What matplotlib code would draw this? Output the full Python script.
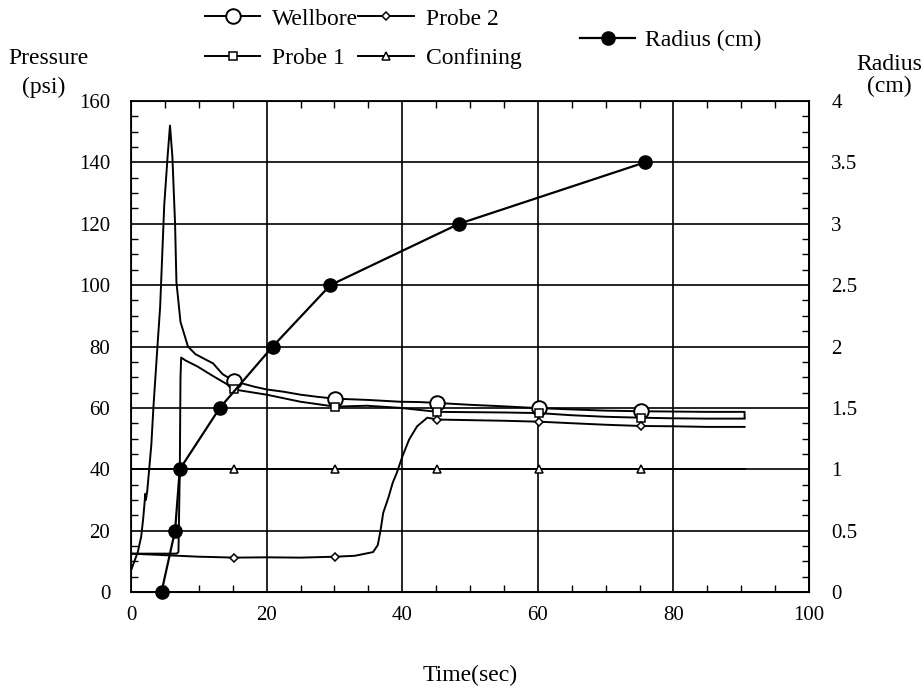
import matplotlib
matplotlib.use("Agg")
import matplotlib.pyplot as plt
from matplotlib.ticker import MultipleLocator, FuncFormatter

plt.rcParams['font.family'] = ['Liberation Serif', 'DejaVu Serif']

# ---------------- data ----------------
marker_times = [15.2, 30.1, 45.2, 60.2, 75.2]

wellbore_t = [0, 0.5, 1.0, 1.5, 1.8, 2.0, 2.1, 2.2, 2.4, 3.0, 3.3, 3.9, 4.3, 4.9, 5.4, 5.75,
              6.1, 6.5, 6.7, 7.3, 8.4, 9.5, 12.1, 13.5, 15.2, 18, 20, 22.4, 25, 27.5, 30.1,
              34.8, 39.7, 42.5, 45.2, 50, 55, 60.2, 65, 70, 75.2, 80, 85, 90.5, 90.5]
wellbore_p = [7, 10, 13, 18, 24, 29, 32, 30, 33, 48, 60, 80, 93, 126, 142, 152,
              142, 120, 101, 88, 80, 77.5, 74.5, 71, 68.7, 67, 66, 65.3, 64.3, 63.6, 63,
              62.6, 62, 61.9, 61.6, 61, 60.5, 59.9, 59.5, 59.1, 58.9, 58.8, 58.7, 58.7, 56.8]

probe1_t = [0, 3, 6.7, 7.0, 7.2, 7.3, 7.4, 8, 9.8, 12, 14.7, 15.2, 20, 25, 30.1,
            34.8, 39.7, 45.2, 50, 55, 60.2, 65, 70, 75.2, 80, 85, 90.5]
probe1_p = [12.5, 12.5, 12.5, 13, 40, 70, 76.4, 75.5, 73.5, 70.5, 67, 66, 64.3, 62, 60.4,
            60.7, 60, 58.7, 58.6, 58.5, 58.3, 57.6, 57.1, 56.8, 56.6, 56.5, 56.5]

probe2_t = [0, 5, 10, 12, 15.2, 20, 25, 30.1, 33, 35.7, 36.4, 36.8, 37.2, 38.0, 38.6,
            39.2, 40.0, 41.0, 42.2, 43.7, 45.2, 50, 55, 60.2, 65, 70, 75.2, 80, 85, 90.5]
probe2_p = [12.5, 12, 11.5, 11.4, 11.2, 11.3, 11.2, 11.5, 11.8, 13, 15.3, 20, 25.8, 31, 35.6,
            38.8, 44, 49.6, 54, 56.8, 56.2, 56, 55.8, 55.5, 55, 54.5, 54.1, 54, 53.8, 53.8]

confining_t = [0, 15.2, 30.1, 45.2, 60.2, 75.2, 90.5]
confining_p = [40, 40, 40, 40, 40, 40, 40]

radius_t = [4.5, 6.5, 7.2, 13.1, 20.9, 29.4, 48.4, 75.8]
radius_r = [0, 0.5, 1.0, 1.5, 2.0, 2.5, 3.0, 3.5]

x_ticks = [0, 20, 40, 60, 80, 100]
p_ticks = [0, 20, 40, 60, 80, 100, 120, 140, 160]
r_ticks = [0, 0.5, 1, 1.5, 2, 2.5, 3, 3.5, 4]


def marks(ts):
    return [ts.index(m) for m in marker_times]


# ---------------- figure ----------------
W, H = 924, 691
fig = plt.figure(figsize=(W / 100, H / 100), dpi=100)
ax = fig.add_axes([131 / W, (H - 592) / H, 678 / W, 491 / H])

lw = 1.4
fs = 15     # tick labels
fl = 17     # legend / axis titles

ax.set_xlim(0, 100)
ax.set_ylim(0, 160)
ax.set_xticks(x_ticks)
ax.set_yticks(p_ticks)
ax.xaxis.set_minor_locator(MultipleLocator(5))
ax.yaxis.set_minor_locator(MultipleLocator(5))
ax.grid(True, which='major', color='black', lw=1.2)
ax.tick_params(which='both', direction='in', top=True, labelsize=fs, colors='black')
ax.tick_params(axis='y', which='major', length=0, pad=15)
ax.tick_params(axis='x', which='major', length=0, pad=10)
ax.tick_params(which='minor', length=5, width=1)
for s in ax.spines.values():
    s.set_linewidth(1.3)

wb, = ax.plot(wellbore_t, wellbore_p, color='black', lw=lw, marker='o', ms=10.5,
              mfc='white', mec='black', mew=1.4, markevery=marks(wellbore_t), label='Wellbore')
p1, = ax.plot(probe1_t, probe1_p, color='black', lw=lw, marker='s', ms=5.5,
              mfc='white', mec='black', mew=1.1, markevery=marks(probe1_t), label='Probe 1')
p2, = ax.plot(probe2_t, probe2_p, color='black', lw=lw, marker='D', ms=4.5,
              mfc='white', mec='black', mew=1.1, markevery=marks(probe2_t), label='Probe 2')
cf, = ax.plot(confining_t, confining_p, color='black', lw=lw, marker='^', ms=6,
              mfc='white', mec='black', mew=1.1, markevery=marks(confining_t), label='Confining')

ax2 = ax.twinx()
ax2.set_ylim(0, 4)
ax2.set_yticks(r_ticks)
ax2.yaxis.set_minor_locator(MultipleLocator(0.125))
ax2.yaxis.set_major_formatter(FuncFormatter(lambda v, p: ('%g' % v)))
ax2.tick_params(which='both', direction='in', labelsize=fs, colors='black')
ax2.tick_params(which='major', length=0, pad=16)
ax2.tick_params(which='minor', length=5, width=1)
rd, = ax2.plot(radius_t, radius_r, color='black', lw=1.6, marker='o', ms=9.5,
               mfc='black', mec='black', label='Radius (cm)', clip_on=False)

# axis labels
fig.text(470 / W, 1 - 675 / H, 'Time(sec)', ha='center', va='center', fontsize=fl)
fig.text(48 / W, 1 - 58 / H, 'Pressure', ha='center', va='center', fontsize=fl)
fig.text(44 / W, 1 - 87 / H, '(psi)', ha='center', va='center', fontsize=fl)
fig.text(889 / W, 1 - 65 / H, 'Radius', ha='center', va='center', fontsize=fl)
fig.text(889 / W, 1 - 86 / H, '(cm)', ha='center', va='center', fontsize=fl)

# legends
leg1 = fig.legend(handles=[wb, p1, p2, cf], ncol=2, loc='upper left',
                  bbox_to_anchor=(205 / W, 1 - 8 / H), frameon=False, fontsize=fl,
                  numpoints=1, handlelength=2.35, handletextpad=0.5, columnspacing=0.0,
                  labelspacing=0.78, borderpad=0, borderaxespad=0)
leg2 = fig.legend(handles=[rd], loc='upper left', bbox_to_anchor=(580 / W, 1 - 30 / H),
                  frameon=False, fontsize=fl, numpoints=1, handlelength=2.35,
                  handletextpad=0.4, borderpad=0, borderaxespad=0)

fig.savefig('out.png', dpi=100)
